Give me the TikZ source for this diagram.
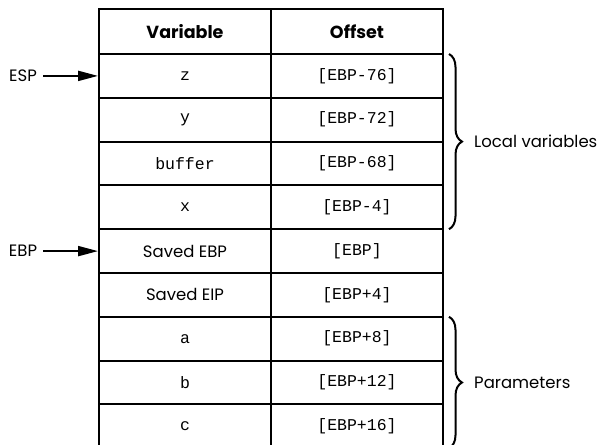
\documentclass[tikz,border=0pt]{standalone}
\usepackage{fontspec}
\setmainfont{Poppins}
\setmonofont{Liberation Mono}
\usetikzlibrary{arrows.meta,decorations.pathreplacing}
\begin{document}
\begin{tikzpicture}[x=1pt,y=-1pt,
  cellbox/.style={draw,line width=2pt,minimum width=172pt,minimum height=43.8pt,inner sep=0pt,outer sep=0pt},
  codetxt/.style={font=\ttfamily\fontsize{16.5}{16.5}\selectfont},
  sanstxt/.style={font=\fontsize{16.5}{16.5}\selectfont},
  headtxt/.style={font=\bfseries\fontsize{17.5}{17.5}\selectfont},
  ptr/.style={line width=2pt,-{Triangle[length=20pt,width=10pt]},shorten >=1pt},
  bracebr/.style={line width=2pt,decorate,decoration={brace,amplitude=13pt}},
  sidelbl/.style={anchor=west,font=\fontsize{16.5}{16.5}\selectfont,inner sep=0pt}]
\clip (0,0) rectangle (598,445);
% header
\node[cellbox,minimum height=45pt,headtxt] (hv) at (185,31.5) {Variable};
\node[cellbox,minimum height=45pt,headtxt] (ho) at (357,31.5) {Offset};
% rows
\node[cellbox,codetxt] (v1) at (185,75.9) {z};
\node[cellbox,codetxt] (o1) at (357,75.9) {[EBP-76]};
\node[cellbox,codetxt] (v2) at (185,119.7) {y};
\node[cellbox,codetxt] (o2) at (357,119.7) {[EBP-72]};
\node[cellbox,codetxt] (v3) at (185,163.5) {buffer};
\node[cellbox,codetxt] (o3) at (357,163.5) {[EBP-68]};
\node[cellbox,codetxt] (v4) at (185,207.3) {x};
\node[cellbox,codetxt] (o4) at (357,207.3) {[EBP-4]};
\node[cellbox,sanstxt] (v5) at (185,251.1) {Saved EBP};
\node[cellbox,codetxt] (o5) at (357,251.1) {[EBP]};
\node[cellbox,sanstxt] (v6) at (185,294.9) {Saved EIP};
\node[cellbox,codetxt] (o6) at (357,294.9) {[EBP+4]};
\node[cellbox,codetxt] (v7) at (185,338.7) {a};
\node[cellbox,codetxt] (o7) at (357,338.7) {[EBP+8]};
\node[cellbox,codetxt] (v8) at (185,382.5) {b};
\node[cellbox,codetxt] (o8) at (357,382.5) {[EBP+12]};
\node[cellbox,codetxt] (v9) at (185,426.3) {c};
\node[cellbox,codetxt] (o9) at (357,426.3) {[EBP+16]};
% pointers
\node[sanstxt,inner sep=2pt] (esp) at (23,75.9) {ESP};
\node[sanstxt,inner sep=2pt] (ebp) at (23,251.1) {EBP};
\draw[ptr] ([xshift=4pt]esp.east) -- (v1.west);
\draw[ptr] ([xshift=4pt]ebp.east) -- (v5.west);
% braces
\coordinate (lt) at ([xshift=6pt]o1.north east);
\coordinate (lb) at ([xshift=6pt]o4.south east);
\coordinate (pt) at ([xshift=6pt]o7.north east);
\coordinate (pb) at ([xshift=6pt]o9.south east);
\draw[bracebr] (lt) -- (lb);
\draw[bracebr] (pt) -- (pb);
\node[sidelbl] (loc) at (474,141) {Local variables};
\node[sidelbl] (par) at (474,383) {Parameters};
\end{tikzpicture}
\end{document}
